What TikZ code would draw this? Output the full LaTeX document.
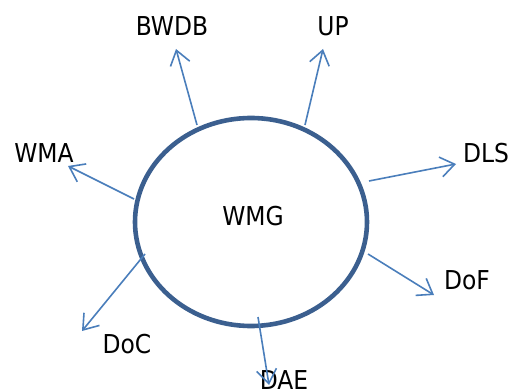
\documentclass[tikz,border=0pt]{standalone}
\usepackage{fontspec}
\setmainfont{DejaVu Sans Condensed}
\usetikzlibrary{arrows.meta,shapes.geometric}
\definecolor{ringblue}{HTML}{3B5F8F}
\definecolor{arrowblue}{HTML}{4A7EBB}
\tikzset{
  lbl/.style={font=\fontsize{26}{28}\selectfont, text=black, inner sep=0pt},
  conn/.style={draw=arrowblue, line width=1.6pt, -{Straight Barb[length=14pt,width=20pt,line width=1.6pt]}},
  ring/.style={draw=ringblue, line width=4.6pt, ellipse, minimum width=232pt, minimum height=208pt, inner sep=0pt}
}
\begin{document}
\begin{tikzpicture}[x=1pt,y=-1pt]
\useasboundingbox (0,0) rectangle (511,390);
\node[ring] (ring) at (251,222) {};
\node[lbl] (wmg) at (253,216) {WMG};
\node[lbl] (bwdb) at (172,26) {BWDB};
\node[lbl] (up) at (333,26) {UP};
\node[lbl] (dls) at (486,153) {DLS};
\node[lbl] (wma) at (44,153) {WMA};
\node[lbl] (dof) at (467,280) {DoF};
\node[lbl] (doc) at (127,344) {DoC};
\node[lbl] (dae) at (284,380) {DAE};
\coordinate (s1) at (197,125); \coordinate (e1) at (176,49);
\coordinate (s2) at (305,125); \coordinate (e2) at (323,49);
\coordinate (s3) at (369,181); \coordinate (e3) at (456,164);
\coordinate (s4) at (134,199); \coordinate (e4) at (68,166);
\coordinate (s5) at (145,254); \coordinate (e5) at (82,331);
\coordinate (s6) at (368,254); \coordinate (e6) at (434,295);
\coordinate (s7) at (258,317); \coordinate (e7) at (269,385);
\draw[conn] (s1) -- (e1);
\draw[conn] (s2) -- (e2);
\draw[conn] (s3) -- (e3);
\draw[conn] (s4) -- (e4);
\draw[conn] (s5) -- (e5);
\draw[conn] (s6) -- (e6);
\draw[conn] (s7) -- (e7);
\end{tikzpicture}
\end{document}
